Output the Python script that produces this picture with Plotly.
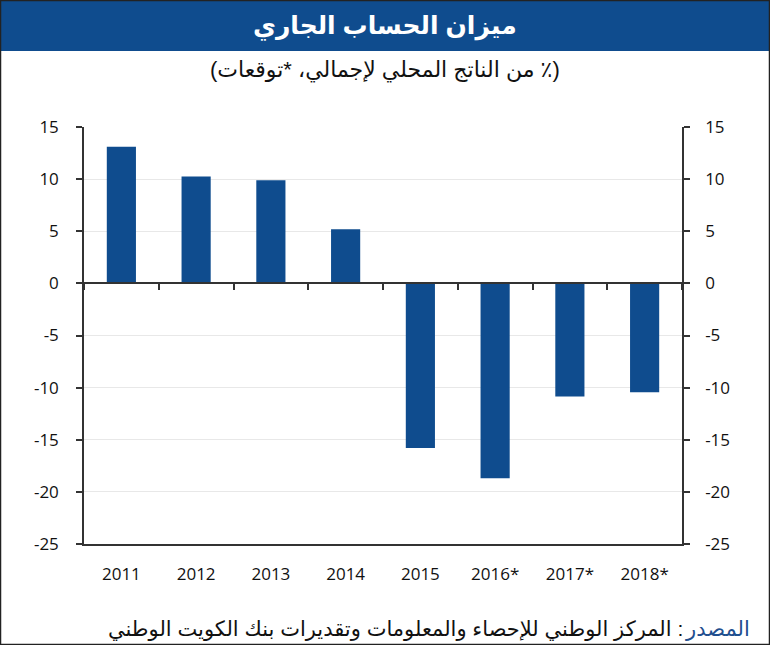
import plotly.graph_objects as go

years = ["2011", "2012", "2013", "2014", "2015", "2016*", "2017*", "2018*"]
balance = [13.1, 10.25, 9.9, 5.2, -15.8, -18.7, -10.85, -10.45]
yticks = [15, 10, 5, 0, -5, -10, -15, -20, -25]

title = "ميزان الحساب الجاري"
subtitle = "(من الناتج المحلي لإجمالي، *توقعات ٪)"
source_label = "المصدر"
source_text = "المركز الوطني للإحصاء والمعلومات وتقديرات بنك الكويت الوطني :"

BLUE = "#0f4c8e"
AX = "#333333"
FONT = "Liberation Sans, DejaVu Sans, sans-serif"
TICKFONT = "Open Sans, Liberation Sans, sans-serif"

fig = go.Figure()
fig.add_trace(go.Bar(x=years, y=balance, marker=dict(color=BLUE, line=dict(width=0)),
                     width=0.39, hoverinfo="skip"))
fig.add_trace(go.Scatter(x=years, y=balance, yaxis="y2", mode="markers",
                         marker=dict(opacity=0), hoverinfo="skip", showlegend=False))
fig.add_trace(go.Scatter(x=years, y=balance, xaxis="x2", mode="markers",
                         marker=dict(opacity=0), hoverinfo="skip", showlegend=False))

yaxis_common = dict(range=[-25, 15], tickvals=yticks, ticktext=[str(v) for v in yticks],
                    showline=True, linecolor=AX, linewidth=1.5,
                    ticks="outside", ticklen=6, tickcolor=AX, tickwidth=1.5,
                    tickfont=dict(family=TICKFONT, size=17, color="#111"))

fig.update_layout(
    width=770, height=645,
    paper_bgcolor="white", plot_bgcolor="white",
    margin=dict(l=84, r=88, t=127, b=101),
    showlegend=False,
    bargap=0.61,
    xaxis=dict(type="category", categoryorder="array", categoryarray=years,
               showline=True, linecolor=AX, linewidth=1.5, ticks="",
               tickfont=dict(family=TICKFONT, size=17, color="#111"),
               showgrid=False, zeroline=False, ticklabelstandoff=14),
    xaxis2=dict(type="category", categoryorder="array", categoryarray=years,
                overlaying="x", matches="x", anchor="free", position=0.625, side="bottom",
                showline=True, linecolor=AX, linewidth=1.5,
                ticks="outside", tickson="boundaries", ticklen=6, tickcolor=AX, tickwidth=1.5,
                showticklabels=False, showgrid=False, zeroline=False),
    yaxis=dict(**yaxis_common, side="left", showgrid=True, gridcolor="#e8e8e8",
               gridwidth=1, zeroline=False, ticklabelstandoff=14),
    yaxis2=dict(**yaxis_common, side="right", overlaying="y", matches="y",
                showgrid=False, zeroline=False, ticklabelstandoff=12),
    shapes=[
        dict(type="rect", xref="paper", yref="paper", x0=-84/598, x1=(598+88)/598,
             y0=-101/417, y1=(417+127)/417, line=dict(color="#222", width=2.5),
             fillcolor="rgba(0,0,0,0)", layer="above"),
        dict(type="rect", xref="paper", yref="paper", x0=-84/598, x1=(598+88)/598,
             y0=(417+127-51)/417, y1=(417+127)/417, line=dict(color="#222", width=0),
             fillcolor=BLUE, layer="below"),
    ],
    annotations=[
        dict(text=title, xref="paper", yref="paper", x=(385-84)/598, y=(544-26)/417,
             xanchor="center", yanchor="middle", showarrow=False,
             font=dict(family=FONT, size=25, color="white", weight="bold")),
        dict(text=subtitle, xref="paper", yref="paper", x=(385-84)/598, y=(544-70)/417,
             xanchor="center", yanchor="middle", showarrow=False,
             font=dict(family=FONT, size=22, color="#111")),
        dict(text=source_label, xref="paper", yref="paper", x=(752-84)/598, y=(544-629)/417,
             xanchor="right", yanchor="middle", showarrow=False,
             font=dict(family=FONT, size=21, color="#1f4f8f")),
        dict(text=source_text, xref="paper", yref="paper", x=(685-84)/598, y=(544-629)/417,
             xanchor="right", yanchor="middle", showarrow=False,
             font=dict(family=FONT, size=21, color="#111")),
    ],
)

fig.write_html("out.html")
